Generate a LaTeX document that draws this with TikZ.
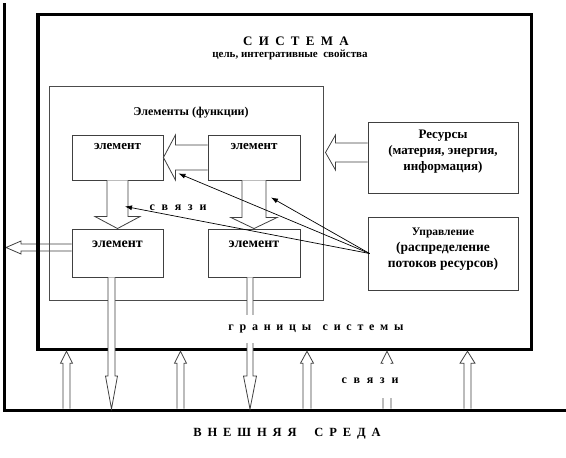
\documentclass[tikz,border=0pt]{standalone}
\usepackage{fontspec}
\setmainfont{Liberation Serif}
\usetikzlibrary{arrows.meta, positioning, calc, backgrounds}

% hollow block arrows: vertical (x of #1) and horizontal (y of #1)
\newcommand{\blockV}[5]{%
	\path[blk] let \p1=(#1), \p2=(#2) in
	({\x1-#3},\y1) -- ({\x1-#3},{\y2-sign(\y2-\y1)*#5}) -- ({\x1-#4},{\y2-sign(\y2-\y1)*#5})
	-- (\x1,\y2) -- ({\x1+#4},{\y2-sign(\y2-\y1)*#5}) -- ({\x1+#3},{\y2-sign(\y2-\y1)*#5}) -- ({\x1+#3},\y1);}
\newcommand{\blockH}[5]{%
	\path[blk] let \p1=(#1), \p2=(#2) in
	(\x1,{\y1-#3}) -- ({\x2-sign(\x2-\x1)*#5},{\y1-#3}) -- ({\x2-sign(\x2-\x1)*#5},{\y1-#4})
	-- (\x2,\y1) -- ({\x2-sign(\x2-\x1)*#5},{\y1+#4}) -- ({\x2-sign(\x2-\x1)*#5},{\y1+#3}) -- (\x1,{\y1+#3});}

\begin{document}
\begin{tikzpicture}[x=1pt, y=-1pt,
		font=\bfseries,
		% boxes
		box/.style={draw=gray!50!black, line width=0.9pt, inner sep=0pt},
		elem/.style={box, fill=white, minimum width=91pt, minimum height=45pt},
		side/.style={box, fill=white, minimum width=150pt},
		% texts
		elemtxt/.style={font=\bfseries\fontsize{#1}{#1}\selectfont, inner sep=0pt},
		sidetxt/.style={font=\bfseries\fontsize{13}{16}\selectfont, align=center, inner sep=0pt},
		spread/.style={font=\bfseries\fontsize{#1}{#1}\selectfont, inner sep=0pt},
		wsp/.style={execute at begin node={\spaceskip=#1\relax}},
		gap/.style={fill=white},
		% connectors
		blk/.style={draw=gray!50!black, fill=white, line width=0.8pt},
		link/.style={-{Latex[length=7pt,width=5pt]}, line width=0.7pt}
	]
	
	\useasboundingbox (0,0) rectangle (566,458);
	
	% === Environment ===
	\coordinate (envT) at (4.5,3);
	\coordinate (envB) at (4.5,410);
	\coordinate (envR) at (566,410);
	\draw[line width=3pt] (envT) -- (envB) -- (envR);
	
	% === System ===
	\node[draw, line width=3.5pt, minimum width=493.5pt, minimum height=335pt, inner sep=0pt] (sys) at (284.75,182) {};
	\node[spread=13, wsp=6.3pt] (sysname) at (296,41) {С И С Т Е М А};
	\node[elemtxt=11] (goal) at (290,55) {цель, интегративные~~свойства};
	
	% === Elements ===
	\node[box, draw=gray!60!black, line width=1pt, minimum width=274pt, minimum height=214pt] (func) at (186,193) {};
	\node[elemtxt=12] (functitle) at (191,113) {Элементы (функции)};
	
	\node[elem] (e1) at (117.5,157.5) {};
	\node[elem, minimum width=92pt] (e2) at (254,157.5) {};
	\node[elem, minimum height=48pt] (e3) at (117.5,253) {};
	\node[elem, minimum width=92pt, minimum height=48pt] (e4) at (254,253) {};
	\node[elemtxt=13, below=9pt of e1.north] (e1txt) {элемент};
	\node[elemtxt=13, below=9pt of e2.north] (e2txt) {элемент};
	\node[elemtxt=14, below=12pt of e3.north] (e3txt) {элемент};
	\node[elemtxt=14, below=12pt of e4.north] (e4txt) {элемент};
	
	% output of the system, under the borders
	\begin{scope}[on background layer]
		\blockH{$(e3.west)+(0,-5.5)$}{$(envB)+(1.5,0)$}{3.5}{6.5}{15}
	\end{scope}
	
	% === Resources and control ===
	\node[side, minimum height=71pt] (res) at (443,157.5) {};
	\node[sidetxt, below=8pt of res.north] (restxt) {Ресурсы\\(материя, энергия,\\информация)};
	\node[side, minimum height=73pt] (ctl) at (443,253.5) {};
	\node[sidetxt, font=\bfseries\fontsize{13.5}{16}\selectfont, below=11pt of ctl.north] (ctltxt) {{\fontsize{11.5}{16}\selectfont Управление}\\(распределение\\потоков~ресурсов)};
	
	% === Block arrows ===
	\blockH{e2.west}{e1.east}{12.5}{22.5}{12}
	\blockH{$(res.west)+(0,-5)$}{$(func.east)+(2,0)$}{9.5}{17.5}{10}
	\blockV{e1.south}{e3.north}{10.5}{22.5}{12}
	\blockV{e2.south}{e4.north}{12}{23}{11}
	\blockV{$(e3.south)+(-6,0)$}{$(envR)+(0,-1)$}{3.5}{6}{33}
	\blockV{$(e4.south)+(-4,0)$}{$(envR)+(0,-1)$}{3}{6.5}{33}
	\foreach \px/\s/\h [count=\i] in {66.5/3.5/6, 180.5/3.5/6, 307/4/6.5, 387/4/6, 467.5/3.5/7.5}{
		\coordinate (in\i) at (\px,408.5);
		\blockV{in\i}{sys.south}{\s}{\h}{12}
	}
	
	% === Control links ===
	\coordinate (hub) at ($(ctl.west)+(2,0)$);
	\coordinate (toA) at ($(e1.south east)+(15,-7)$);
	\coordinate (toB) at ($(e2.south)+(17,17)$);
	\coordinate (toC) at ($(e1.south)+(7.5,26)$);
	\draw[link] (hub) -- (toA);
	\draw[link] (hub) -- (toB);
	\draw[link] (hub) -- (toC);
	
	% === Labels ===
	\node[spread=12, wsp=6.7pt] (links) at (178,208) {с в я з и};
	\node[spread=12, wsp=5.75pt, gap, minimum height=28pt] (border) at (316,329) {г р а н и ц ы~~с и с т е м ы};
	\node[spread=12, wsp=6.7pt, gap, minimum height=34pt] (extlinks) at (370,381) {с в я з и};
	\node[spread=12.5, wsp=5.9pt] (env) at (287,434) {В Н Е Ш Н Я Я~~~С Р Е Д А};
	
\end{tikzpicture}
\end{document}
